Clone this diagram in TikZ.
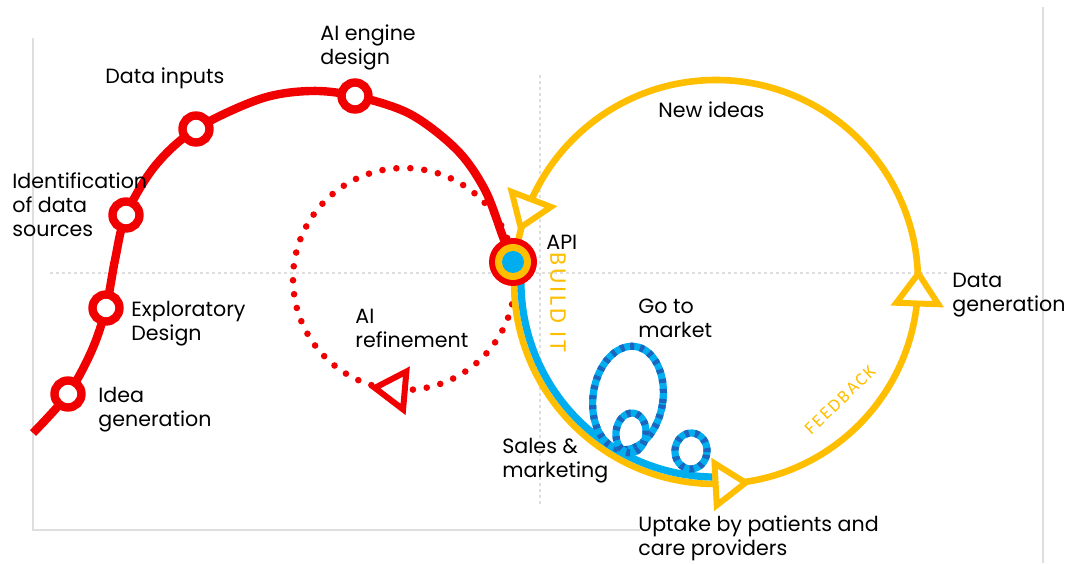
\documentclass[tikz,border=0pt]{standalone}
\usepackage{fontspec}
\setmainfont{Poppins}
\newfontfamily\tagfont[LetterSpace=12]{Carlito}
\usetikzlibrary{shapes.geometric, calc}

\definecolor{LoopRed}{RGB}{240,0,0}
\definecolor{CycleGold}{RGB}{255,190,0}
\definecolor{TrackCyan}{RGB}{0,174,239}
\definecolor{TrackBlue}{RGB}{28,100,190}
\definecolor{GuideGray}{RGB}{222,222,222}

\begin{document}
\begin{tikzpicture}[x=0.5pt, y=0.5pt,
	lbl/.style={anchor=base west, align=left, inner sep=0pt,
		font=\fontsize{10.3}{12.2}\selectfont},
	stopmark/.style={circle, draw=LoopRed, fill=white, line width=4.2pt,
		minimum size=13.5pt, inner sep=0pt},
	redpath/.style={LoopRed, line width=4.2pt},
	cycleline/.style={CycleGold, line width=3.3pt},
	trackline/.style={TrackCyan, line width=3.6pt},
	opentri/.style={isosceles triangle, isosceles triangle stretches,
		minimum height=15pt, minimum width=21pt, inner sep=0pt,
		fill=white, line width=3pt},
	guide/.style={GuideGray, line width=0.6pt}]

	\useasboundingbox (0,0) rectangle (1067,563);

	% faint frame and centre guides
	\draw[guide] (33,525) -- (33,33) -- (640,33);
	\draw[guide] (1043,556) -- (1043,0);
	\draw[guide, dash pattern=on 1.5pt off 1.5pt] (50,290) -- (948,290);
	\draw[guide, dash pattern=on 1.5pt off 1.5pt] (540,488) -- (540,58);

	% stops along the red path
	\coordinate (idea) at (68,169);
	\coordinate (explore) at (106,255);
	\coordinate (sources) at (126,348);
	\coordinate (inputs) at (196,434);
	\coordinate (engine) at (355,467);
	\coordinate (api) at (513,301);
	\coordinate (refine) at (404,284);
	\coordinate (ycen) at (716,281);

	% AI refinement loop
	\draw[LoopRed, line width=3.3pt, line cap=round, dash pattern=on 0pt off 7pt]
		(refine) circle[radius=111];
	\node[opentri, draw=LoopRed, minimum width=19pt, rotate=175] (refine-tip)
		at ($(refine)+(265:111)$) {};

	% build path
	\draw[redpath] plot[smooth, tension=0.55] coordinates {(33,130) (idea) (92,213)
		(explore) (115,303) (sources) (155,397) (inputs) (260,464) (310,472)
		(engine) (410,449) (457,413) (485,373) (503,326) (api)};

	% feedback cycle and market track
	\draw[cycleline] (ycen) circle[radius=202];
	\draw[trackline] ($(ycen)+(174:195)$) arc[start angle=174, end angle=269, radius=195];
	\foreach \cx/\cy/\rx/\ry/\tilt in {628/165/35/52/-8, 631/130/15/20/-6, 691/112/16/18/-4}{
		\draw[TrackCyan, line width=3.6pt, rotate around={\tilt:(\cx,\cy)}]
			(\cx,\cy) ellipse[x radius=\rx, y radius=\ry];
		\draw[TrackBlue, line width=3.6pt, dash pattern=on 2pt off 3pt,
			rotate around={\tilt:(\cx,\cy)}]
			(\cx,\cy) ellipse[x radius=\rx, y radius=\ry];
	}
	\node[opentri, draw=CycleGold, rotate=249] (tip-ideas) at ($(ycen)+(159:202)$) {};
	\node[opentri, draw=CycleGold, rotate=88] (tip-data) at ($(ycen)+(-3:202)$) {};
	\node[opentri, draw=CycleGold, rotate=3] (tip-uptake) at ($(ycen)+(273:202)$) {};

	% markers
	\foreach \s in {idea, explore, sources, inputs, engine}{
		\node[stopmark] (\s-mark) at (\s) {};
	}
	\node[circle, fill=LoopRed, minimum size=24pt, inner sep=0pt] (api-ring) at (api) {};
	\node[circle, fill=CycleGold, minimum size=18pt, inner sep=0pt] (api-gold) at (api) {};
	\node[circle, fill=TrackCyan, minimum size=11pt, inner sep=0pt] (api-core) at (api) {};

	% labels (anchored on the last line)
	\node[lbl] (t-engine) at (320,498) {AI engine\\design};
	\node[lbl] (t-inputs) at (105,479) {Data inputs};
	\node[lbl] (t-sources) at (12,326) {Identification\\of data\\sources};
	\node[lbl] (t-explore) at (131,222) {Exploratory\\Design};
	\node[lbl] (t-idea) at (98,136) {Idea\\generation};
	\node[lbl] (t-refine) at (355,215) {AI\\refinement};
	\node[lbl] (t-api) at (546,313) {API};
	\node[lbl] (t-market) at (638,225) {Go to\\market};
	\node[lbl] (t-sales) at (502,85) {Sales \&\\marketing};
	\node[lbl] (t-ideas) at (658,445) {New ideas};
	\node[lbl] (t-data) at (952,251) {Data\\generation};
	\node[lbl] (t-uptake) at (638,7) {Uptake by patients and\\care providers};
	\node[CycleGold, inner sep=0pt, rotate=-90, font=\tagfont\fontsize{12}{12}\selectfont]
		(t-build) at (558,261) {BUILD IT};
	\node[CycleGold, inner sep=0pt, rotate=44, font=\tagfont\fontsize{9}{9}\selectfont]
		(t-feedback) at (840,163) {FEEDBACK};
\end{tikzpicture}
\end{document}
